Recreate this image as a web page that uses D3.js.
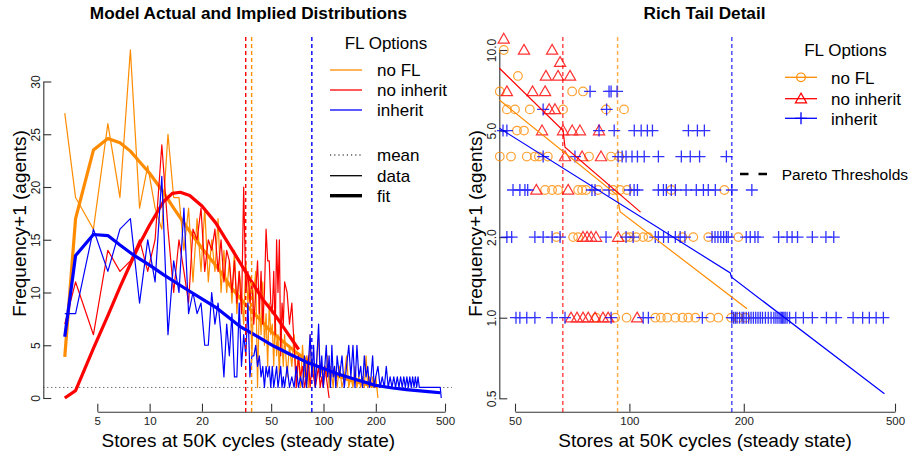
<!DOCTYPE html>
<html><head><meta charset="utf-8">
<script src="https://cdn.jsdelivr.net/npm/d3@7"></script>
<style>
body{margin:0;background:#fff;}
svg{display:block;font-family:"Liberation Sans",Arial,Helvetica,sans-serif;}
</style></head><body>
<svg id="chart" width="912" height="451"></svg>
<script>
// ---------------- DATA ----------------
const seriesNames = ["no FL", "no inherit", "inherit"];
const seriesColors = ["#FF8C00", "#FF0000", "#0000FF"];

// store bins (x positions of the frequency data)
const storeBins = [3.25, ...d3.range(3.75, 60, 1), ...d3.range(61.75, 120, 2), ...d3.range(123.75, 200, 4), ...d3.range(205.75, 480, 6)];

// Frequency+1 per bin (left panel, thin lines)
const freqNoFL = [27,19,16,26,19,33,18,22,18,16,25,19,19,14,18,11,17,12,18,11,15,12,17,10,14,10,13,9,14,8,12,10,7,13,9,11,4,10,12,1,9,6,11,5,8,3,9,6,7,3,8,4,6,2,7,5,3,6,
  2,5,3,6,2,4,1,5,2,4,1,6,2,3,1,4,6,2,3,1,3,2,4,1,3,2,1,3,2,1,
  3,1,2,4,1,2,1,3,1,2,1,2,1,4,1,2,1,2,1,2,
  0];
const freqNoInherit = [7,11,6,14,12,13,15,12,15,24,16,10,15,12,9,16,15,18,12,15,14,16,12,15,11,14,13,10,13,9,12,8,20,10,12,9,11,7,10,13,8,12,7,10,16,13,13,9,8,12,6,15,10,15,4,9,7,11,
  10,7,9,5,1,4,2,3,1,2,4,1,3,2,1,2,3,1,2,1,3,2,1,0];
const freqInherit = [8,8,16,12,16,17,9,15,11,21,6,13,10,18,8,10,8,9,5,5,10,7,9,6,2,7,4,8,2,2,9,3,6,4,9,2,4,4,5,3,4,2,3,1,3,2,3,1,3,1,2,3,1,2,3,1,2,1,
  3,1,2,1,3,1,2,1,4,1,3,6,2,5,1,4,7,2,4,1,3,5,2,4,1,5,2,3,1,4,
  2,4,1,3,5,2,5,1,5,2,3,1,4,2,3,1,2,4,1,2,
  3,1,2,1,3,1,2,1, 2,1,2,1,2,1,2,1,2,1,2,1,2,1,2,1,2,
  1,1,1,1,1,1,1,1,1,1,1,1,1,1,1,1,1,1,1,1, 0];

// fitted curves (left panel, thick lines)
const fitNoFLx = [3.25,3.75,4.75,5.75,6.75,7.75,8.75,10,12,14,17,20,25,30,35,40,50,60,70,80,90,100,120,140,170,205];
const fitNoFLy = [3.9,17,23.5,24.6,24.2,23.4,22.4,21.3,19.5,17.8,15.8,14.2,12.2,10.3,9.0,8.0,6.3,5.2,4.3,3.6,3.1,2.7,2.1,1.7,1.35,1.05];
const fitNoInheritx = [3.25,3.75,4.75,5.75,6.75,7.75,8.75,10,12,13.5,15,17,20,24,30,38,45,52,60,72];
const fitNoInherity = [0,0.7,4.7,7.8,10.5,12.7,14.6,16.4,18.6,19.4,19.5,19.2,18.2,16.6,14.0,11.2,9.3,8.0,6.5,4.6];
const fitInheritx = [3.25,3.75,4.75,5.75,6.75,8,10,12,15.6,20,24,33,43,52,65,80,100,120,150,200,250,300,400,470];
const fitInherity = [5.8,13.5,15.5,15.4,14.5,13.6,12.6,11.7,10.5,9.4,8.6,6.8,5.7,4.9,4.1,3.4,2.8,2.3,1.8,1.2,0.95,0.8,0.6,0.5];

// means (left) and Pareto thresholds (right), order: no FL, no inherit, inherit
const meanStores = [38.6, 35.7, 85.7];
const paretoThresholds = [93.1, 66.8, 186];

// Pareto fits (right panel)
const paretoNoFLx = [45.5, 92.8, 94.5, 204];
const paretoNoFLy = [6.5, 2.87, 2.49, 1.08];
const paretoNoInheritx = [45.5, 66.9, 67.7, 107];
const paretoNoInherity = [8.55, 5.0, 4.33, 2.48];
const paretoInheritx = [45.5, 184.3, 185.4, 469];
const paretoInherity = [5.1, 1.47, 1.42, 0.52];

// rich tail points [stores, frequency+1]
const tailNoFL = [[46.7,10],[50.9,8],[45.6,7],[70.7,7],[75.5,7],
  [47.6,6],[50,6],[54.7,6],[66.9,6],[86.8,6],[96.8,6],[50.6,5],[52.8,5],
  [45.6,4],[48.8,4],[53.7,4],[56.4,4],[57.8,4],[61,4],[78.3,4],[89.5,4],[94,4],
  [60,3],[62.6,3],[64.9,3],[73.3,3],[75.1,3],[76.9,3],[82.7,3],[90.6,3],[94.5,3],[98.6,3],[128.9,3],[177.8,3],
  [64.3,2],[71.1,2],[73.3,2],[98,2],[100.4,2],[104.2,2],[108.7,2],[112.2,2],[137.9,2],[147.3,2],[161.3,2],[193.5,2],
  [81.7,1],[91.7,1],[98.3,1],[117,1],[121,1],[125.8,1],[132.1,1],[137.9,1],[142.9,1],[149.1,1],[163.3,1],[171.4,1],[185.4,1],[193.5,1],[202,1]];
const tailNoInherit = [[46.7,11],[52.8,10],[62.6,10],[65.7,9],[60.3,8],[64.9,8],[69.8,8],
  [47.6,7],[55.6,7],[60,7],[61.5,6],[63.7,6],[58.9,5],[66.9,5],[70.7,5],[74.1,5],[83.2,5],
  [67.7,4],[75.1,4],[84.2,4],[56.9,3],[69,3],[75.5,2],[77.4,2],[79.3,2],[81.7,2],[93.4,2],
  [70.2,1],[72.8,1],[75.5,1],[77.9,1],[81.2,1],[85.2,1],[87.9,1],[104.8,1]];
const tailInherit = [[78.8,7],[88.4,7],[89.5,7],[92.8,7],[59.3,6],[87.1,6],
  [46.5,5],[47.6,5],[83.2,5],[91.2,5],[103,5],[107.4,5],[111.5,5],[115,5],[143,5],[151,5],[157.5,5],
  [59.3,4],[71.9,4],[93.4,4],[95.7,4],[98,4],[101.6,4],[105,4],[109.4,4],[119.2,4],[137,4],[144.6,4],[153,4],[180,4],
  [49.4,3],[51.5,3],[53.1,3],[54,3],[79.7,3],[81.2,3],[88.4,3],[100.4,3],[102.9,3],[105,3],[119.2,3],[122.9,3],[125.1,3],[128.9,3],[132.1,3],[141,3],[150,3],[156.6,3],[161.3,3],[168.3,3],[186,3],[210,3],
  [47.6,2],[49,2],[56.4,2],[59.3,2],[62.6,2],[65.7,2],[86.8,2],[98,2],[102.3,2],[117,2],[119.2,2],[123,2],[126.6,2],[132.1,2],[136,2],[140,2],[165,2],[168,2],[171,2],[174,2],[177,2],[180,2],[182,2],[203,2],[208,2],[214,2],[218,2],[247,2],[260,2],[268,2],[277,2],[303,2],[329,2],[345,2],
  [50.3,1],[51.5,1],[53.7,1],[56.4,1],[62.6,1],[67.7,1],[89.5,1],[108.7,1],[112.2,1],[155.6,1],
  [186,1],[188,1],[190,1],[192,1],[195,1],[198,1],[200,1],[203,1],[206,1],[209,1],[212,1],[215,1],[218,1],[221,1],[224,1],[228,1],[232,1],[236,1],[240,1],[243,1],[246,1],[249,1],[251,1],[253,1],[255,1],[257,1],[260,1],[264,1],
  [274,1],[287,1],[303,1],[330,1],[350,1],[388,1],[411,1],[428,1],[446,1],[466,1]];

// tick labels
const leftXTicks = [5,10,20,50,100,200,500];
const leftYTicks = [0,5,10,15,20,25,30];
const rightXTicks = [50,100,200,500];
const rightYTicks = [0.5,1,2,5,10];
const rightYLabels = ["0.5","1.0","2.0","5.0","10.0"];

// ---------------- DRAW ----------------
const svg = d3.select("#chart");
const axisColor = "#333";

const xL = d3.scaleLog().domain([5,500]).range([97.3,445]);
const yL = d3.scaleLinear().domain([0,30]).range([398,81.5]);
const xR = d3.scaleLog().domain([50,500]).range([515,895]);
const yR = d3.scaleLog().domain([0.5,10]).range([398.3,50]);

function styleAxis(g, fs){
  g.selectAll("path.domain").attr("stroke", axisColor).attr("stroke-width", 1.1);
  g.selectAll(".tick line").attr("stroke", axisColor).attr("stroke-width", 1.1);
  g.selectAll(".tick text").attr("fill", "#222").attr("font-size", fs).attr("font-family", null);
}
function xAxis(scale, ticks, fmt){
  const g = svg.append("g").attr("transform","translate(0,411.7)")
    .call(d3.axisBottom(scale).tickValues(ticks).tickFormat(fmt).tickSizeInner(-8).tickSizeOuter(0).tickPadding(5));
  styleAxis(g, 11.5);
  return g;
}
function yAxis(scale, ticks, fmt, xpos){
  const g = svg.append("g").attr("transform",`translate(${xpos},0)`)
    .call(d3.axisLeft(scale).tickValues(ticks).tickFormat(fmt).tickSizeInner(-8).tickSizeOuter(0));
  styleAxis(g, 12);
  g.selectAll(".tick text").attr("x", null).attr("dy", null).attr("text-anchor","middle")
    .attr("transform","translate(-3,0) rotate(-90)");
  return g;
}

// Left axes
xAxis(xL, leftXTicks, d3.format("d"));
yAxis(yL, leftYTicks, d3.format("d"), 43.3);
// Right axes
xAxis(xR, rightXTicks, d3.format("d"));
yAxis(yR, rightYTicks, (d,i)=>rightYLabels[i], 499.3);

// Titles
svg.append("text").attr("x",248.5).attr("y",18.8).attr("text-anchor","middle")
  .attr("font-size",17.2).attr("font-weight","bold").text("Model Actual and Implied Distributions");
svg.append("text").attr("x",704.5).attr("y",18.8).attr("text-anchor","middle")
  .attr("font-size",17.2).attr("font-weight","bold").text("Rich Tail Detail");
svg.append("text").attr("x",248.3).attr("y",446.5).attr("text-anchor","middle")
  .attr("font-size",19).text("Stores at 50K cycles (steady state)");
svg.append("text").attr("x",705).attr("y",446.5).attr("text-anchor","middle")
  .attr("font-size",19).text("Stores at 50K cycles (steady state)");
svg.append("text").attr("transform","translate(25.5,223.5) rotate(-90)").attr("text-anchor","middle")
  .attr("font-size",19).text("Frequency+1 (agents)");
svg.append("text").attr("transform","translate(481.5,223.5) rotate(-90)").attr("text-anchor","middle")
  .attr("font-size",19).text("Frequency+1 (agents)");

// ---- Left panel ----
const left = svg.append("g");
// zero-frequency reference
left.append("line").attr("x1",43.3).attr("x2",452).attr("y1",yL(1)).attr("y2",yL(1))
  .attr("stroke","#333").attr("stroke-width",1).attr("stroke-dasharray","1,3");

const lineL = d3.line().x(d=>xL(d[0])).y(d=>yL(d[1]));
const dataSeries = [freqNoFL, freqNoInherit, freqInherit];
const fitSeries = [[fitNoFLx,fitNoFLy],[fitNoInheritx,fitNoInherity],[fitInheritx,fitInherity]];
dataSeries.forEach((vals,i)=>{
  const pts = d3.zip(storeBins.slice(0, vals.length), vals);
  left.append("path").attr("d", lineL(pts)).attr("fill","none")
    .attr("stroke", seriesColors[i]).attr("stroke-width",1.2).attr("stroke-linejoin","round");
  const f = fitSeries[i];
  left.append("path").attr("d", lineL(d3.zip(f[0], f[1]))).attr("fill","none")
    .attr("stroke", seriesColors[i]).attr("stroke-width",3.2).attr("stroke-linejoin","round");
});
meanStores.forEach((m,i)=>{
  left.append("line").attr("x1",xL(m)).attr("x2",xL(m)).attr("y1",37).attr("y2",412.5)
    .attr("stroke",seriesColors[i]).attr("stroke-width",1.4).attr("stroke-dasharray","4,3");
});

// Left legend
const legL = svg.append("g").attr("font-size",17).attr("fill","#000");
legL.append("text").attr("x",386).attr("y",49.3).attr("text-anchor","middle").text("FL Options");
const legLY = [70, 90, 110];
seriesNames.forEach((n,i)=>{
  legL.append("line").attr("x1",330).attr("x2",362).attr("y1",legLY[i]).attr("y2",legLY[i])
    .attr("stroke",seriesColors[i]).attr("stroke-width",1.3);
  legL.append("text").attr("x",377).attr("y",legLY[i]+6.3).text(n);
});
const styleItems = [["mean",155,1,"1.2,3"],["data",175.7,1.3,null],["fit",195.7,3.4,null]];
styleItems.forEach(s=>{
  const ln = legL.append("line").attr("x1",330).attr("x2",362).attr("y1",s[1]).attr("y2",s[1])
    .attr("stroke","#000").attr("stroke-width",s[2]);
  if(s[3]) ln.attr("stroke-dasharray",s[3]);
  legL.append("text").attr("x",377).attr("y",s[1]+6.3).text(s[0]);
});

// ---- Right panel ----
const right = svg.append("g");
paretoThresholds.forEach((t,i)=>{
  right.append("line").attr("x1",xR(t)).attr("x2",xR(t)).attr("y1",37).attr("y2",412.5)
    .attr("stroke",seriesColors[i]).attr("stroke-opacity",0.7).attr("stroke-width",1.5).attr("stroke-dasharray","4,3");
});

function marker(g, shape, cx, cy, color){
  if(shape==="circle"){
    g.append("circle").attr("cx",cx).attr("cy",cy).attr("r",4.3)
      .attr("fill","none").attr("stroke",color).attr("stroke-width",1.2);
  } else if(shape==="triangle"){
    g.append("path").attr("d",`M${cx},${cy-5.6}L${cx+5.6},${cy+4.2}L${cx-5.6},${cy+4.2}Z`)
      .attr("fill","none").attr("stroke",color).attr("stroke-width",1.2);
  } else {
    g.append("path").attr("d",`M${cx-6},${cy}H${cx+6}M${cx},${cy-6}V${cy+6}`)
      .attr("fill","none").attr("stroke",color).attr("stroke-width",1.3);
  }
}
const shapes = ["circle","triangle","plus"];
const tailSeries = [tailNoFL, tailNoInherit, tailInherit];
tailSeries.forEach((pts,i)=>{
  const g = right.append("g").attr("opacity",0.8);
  pts.forEach(p=>marker(g, shapes[i], xR(p[0]), yR(p[1]), seriesColors[i]));
});
const lineR = d3.line().x(d=>xR(d[0])).y(d=>yR(d[1]));
const paretoSeries = [[paretoNoFLx,paretoNoFLy],[paretoNoInheritx,paretoNoInherity],[paretoInheritx,paretoInherity]];
paretoSeries.forEach((f,i)=>{
  right.append("path").attr("d", lineR(d3.zip(f[0],f[1]))).attr("fill","none")
    .attr("stroke",seriesColors[i]).attr("stroke-width",1.2);
});

// Right legend
const legR = svg.append("g").attr("font-size",17).attr("fill","#000");
legR.append("text").attr("x",845.5).attr("y",56).attr("text-anchor","middle").text("FL Options");
const legRY = [77.3, 98.7, 118.3];
seriesNames.forEach((n,i)=>{
  legR.append("line").attr("x1",785).attr("x2",817).attr("y1",legRY[i]).attr("y2",legRY[i])
    .attr("stroke",seriesColors[i]).attr("stroke-width",1.3);
  marker(legR, shapes[i], 801, legRY[i], seriesColors[i]);
  legR.append("text").attr("x",831).attr("y",legRY[i]+6.3).text(n);
});
legR.append("line").attr("x1",740).attr("x2",767).attr("y1",174).attr("y2",174)
  .attr("stroke","#000").attr("stroke-width",2.6).attr("stroke-dasharray","8.5,10");
legR.append("text").attr("x",781.7).attr("y",180).attr("font-size",15.5).text("Pareto Thresholds");
</script>
</body></html>
